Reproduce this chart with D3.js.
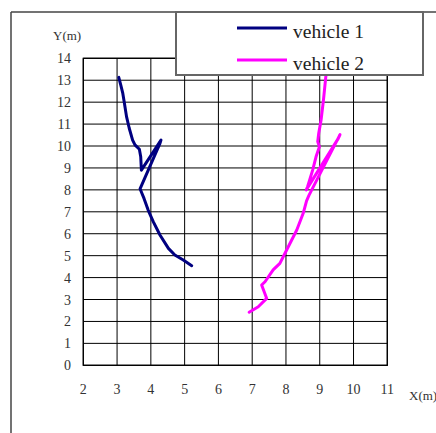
<!DOCTYPE html>
<html><head><meta charset="utf-8">
<script src="https://cdn.jsdelivr.net/npm/d3@7"></script>
<style>html,body{margin:0;padding:0;background:#fff;overflow:hidden}</style>
</head><body>
<script>
const xTicks = [2,3,4,5,6,7,8,9,10,11];
const yTicks = [0,1,2,3,4,5,6,7,8,9,10,11,12,13,14];
const seriesNames = ["vehicle 1","vehicle 2"];
const seriesColors = ["#000080","#FF00FF"];
const vehicle1X = [3.05,3.11,3.17,3.21,3.28,3.36,3.46,3.53,3.66,3.70,3.72,4.30,4.27,3.68,3.80,3.92,4.07,4.27,4.52,4.71,4.96,5.21];
const vehicle1Y = [13.13,12.78,12.4,12.02,11.34,10.81,10.27,10.05,9.85,9.51,8.9,10.27,10.12,8.05,7.6,7.08,6.55,5.94,5.33,5.03,4.8,4.54];
const vehicle2X = [6.91,7.18,7.43,7.28,7.38,7.62,7.82,8.02,8.32,8.51,8.61,8.68,9.60,9.55,8.60,8.64,8.79,8.89,8.99,8.94,8.97,9.04,9.11,9.18,9.25];
const vehicle2Y = [2.42,2.67,3.05,3.66,3.81,4.35,4.65,5.26,6.17,6.93,7.5,7.75,10.52,10.35,8.0,8.14,8.9,9.51,9.97,10.2,10.58,11.19,12.1,13.16,14];

const W = 436, H = 433;
const svg = d3.select("body").append("svg").attr("width", W).attr("height", H);
const x = d3.scaleLinear().domain([2,11]).range([83.3,387.3]);
const y = d3.scaleLinear().domain([0,14]).range([365.3,58.3]);
const font = "'Liberation Serif','Times New Roman',serif";

// outer frame
svg.append("line").attr("x1",11).attr("x2",11).attr("y1",12).attr("y2",H).attr("stroke","#444").attr("stroke-width",1.5);
svg.append("line").attr("x1",11).attr("x2",W).attr("y1",12).attr("y2",12).attr("stroke","#444").attr("stroke-width",1.5);

// grid
const g = svg.append("g");
g.selectAll(".vx").data(xTicks).join("line")
  .attr("x1",d=>x(d)).attr("x2",d=>x(d)).attr("y1",y(0)).attr("y2",y(14))
  .attr("stroke","#000").attr("stroke-width",1);
g.selectAll(".hy").data(yTicks).join("line")
  .attr("x1",x(2)).attr("x2",x(11)).attr("y1",d=>y(d)).attr("y2",d=>y(d))
  .attr("stroke","#000").attr("stroke-width",1);
g.append("rect").attr("x",x(2)).attr("y",y(14)).attr("width",x(11)-x(2)).attr("height",y(0)-y(14))
  .attr("fill","none").attr("stroke","#000").attr("stroke-width",1.3);

// tick labels
svg.selectAll(".yl").data(yTicks).join("text")
  .attr("x",71).attr("y",d=>y(d)+5).attr("text-anchor","end")
  .attr("font-family",font).attr("font-size",14).attr("fill","#333").text(d=>d);
svg.selectAll(".xl").data(xTicks).join("text")
  .attr("x",d=>x(d)).attr("y",394).attr("text-anchor","middle")
  .attr("font-family",font).attr("font-size",14).attr("fill","#333").text(d=>d);
svg.append("text").attr("x",53).attr("y",40).attr("font-family",font).attr("font-size",13).attr("fill","#333").text("Y(m)");
svg.append("text").attr("x",409).attr("y",400).attr("font-family",font).attr("font-size",13).attr("fill","#333").text("X(m)");

// lines
const line = d3.line().x(d=>x(d[0])).y(d=>y(d[1]));
const s1 = vehicle1X.map((v,i)=>[v,vehicle1Y[i]]);
const s2 = vehicle2X.map((v,i)=>[v,vehicle2Y[i]]);
[s1,s2].forEach((s,i)=>{
  svg.append("path").attr("d",line(s)).attr("fill","none").attr("stroke",seriesColors[i])
    .attr("stroke-width",3).attr("stroke-linejoin","round").attr("stroke-linecap","round");
});

// legend
svg.append("rect").attr("x",176).attr("y",12).attr("width",247).attr("height",63)
  .attr("fill","#fff").attr("stroke","#666").attr("stroke-width",2);
const ly = [28,60];
seriesNames.forEach((n,i)=>{
  svg.append("line").attr("x1",237).attr("x2",287).attr("y1",ly[i]).attr("y2",ly[i])
    .attr("stroke",seriesColors[i]).attr("stroke-width",3);
  svg.append("text").attr("x",293).attr("y",ly[i]+9.5).attr("font-family",font).attr("font-size",19.5)
    .attr("fill","#222").text(n);
});
</script>
</body></html>
